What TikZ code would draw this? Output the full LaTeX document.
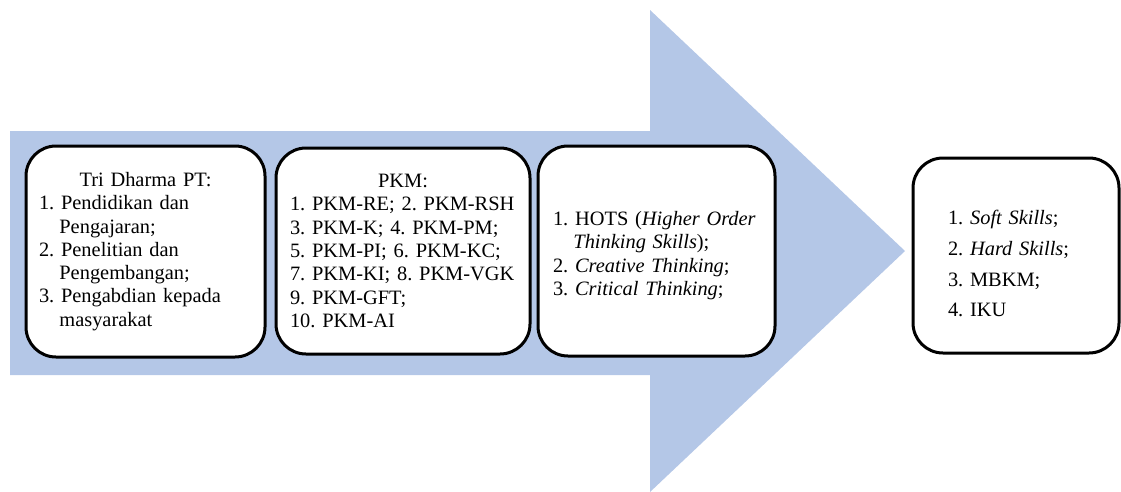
\documentclass[tikz,border=0pt]{standalone}
\usepackage{fontspec}
\setmainfont{Liberation Serif}
\definecolor{arrowblue}{RGB}{180,199,231}
\setlength{\parindent}{0pt}
\hyphenpenalty=10000
\exhyphenpenalty=10000
\newcommand\li[2]{\par\noindent\hangindent=20.4pt\hangafter=1 #1\ #2\par}
\begin{document}
\begin{tikzpicture}[x=1pt,y=-1pt,
  box/.style={draw=black, line width=3pt, fill=white, rounded corners=30pt,
    rectangle, inner ysep=0pt, align=left,
    font=\fontsize{20.4}{23.3}\selectfont},
  widebox/.style={box, font=\fontsize{20.4}{30.8}\selectfont}
]
\useasboundingbox (0,0) rectangle (1121,491);
\fill[arrowblue] (10,131) -- (650,131) -- (650,10) -- (905,251) -- (650,492)
  -- (650,375) -- (10,375) -- cycle;

\node[box, minimum width=239pt, minimum height=211pt, text width=213pt,
  inner xsep=13pt] (tri) at (145.5,251.5) {%
  \centerline{Tri Dharma PT:}%
  \li{1.}{Pendidikan~dan\newline Pengajaran;}%
  \li{2.}{Penelitian~dan\newline Pengembangan;}%
  \li{3.}{Pengabdian~kepada\newline masyarakat}};

\node[box, minimum width=254pt, minimum height=206pt, text width=226pt,
  inner xsep=14pt] (pkm) at (403,251) {%
  \centerline{PKM:}%
  \par\mbox{1.~PKM-RE;~2.~PKM-RSH}%
  \par\mbox{3.~PKM-K;~4.~PKM-PM;}%
  \par\mbox{5.~PKM-PI;~6.~PKM-KC;}%
  \par\mbox{7.~PKM-KI;~8.~PKM-VGK}%
  \par\mbox{9.~PKM-GFT;}%
  \par\mbox{10.~PKM-AI}\par};

\node[box, minimum width=237pt, minimum height=210pt, text width=207pt,
  inner xsep=15pt] (hots) at (656.5,251) {%
  \li{1.}{HOTS~(\textit{Higher~Order}\newline\textit{Thinking~Skills});}%
  \li{2.}{\textit{Creative~Thinking};}%
  \li{3.}{\textit{Critical~Thinking};}};

\node[widebox, minimum width=206pt, minimum height=195pt, text width=136pt,
  inner xsep=35pt] (skills) at (1016,255.5) {%
  \li{1.}{\textit{Soft~Skills};}%
  \li{2.}{\textit{Hard~Skills};}%
  \li{3.}{MBKM;}%
  \li{4.}{IKU}};
\end{tikzpicture}
\end{document}
